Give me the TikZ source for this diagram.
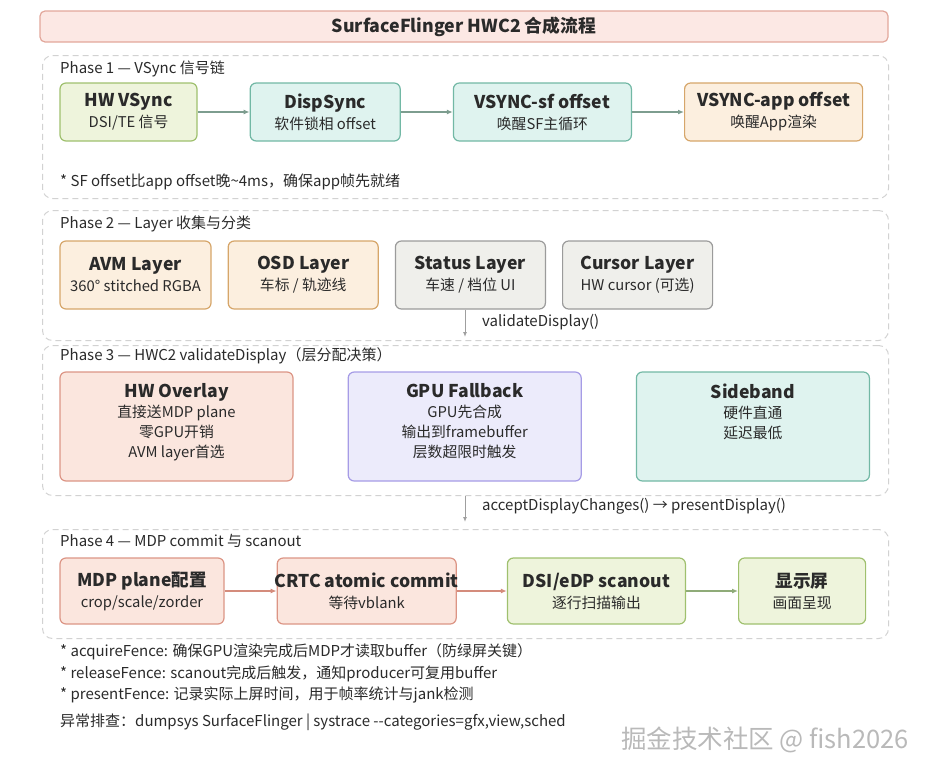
\documentclass[tikz,border=0pt]{standalone}
\usepackage{fontspec}
\setmainfont{Noto Sans CJK SC}
\usetikzlibrary{arrows.meta,positioning}

\definecolor{txt}{HTML}{2A2A2A}
\definecolor{ttlfill}{HTML}{FCE8E4}
\definecolor{ttlline}{HTML}{E2A79B}
\definecolor{grnfill}{HTML}{EEF4DC}
\definecolor{grnline}{HTML}{9FC06E}
\definecolor{tealfill}{HTML}{DFF3EF}
\definecolor{tealline}{HTML}{72B8A5}
\definecolor{orgfill}{HTML}{FCEFDF}
\definecolor{orgline}{HTML}{D6A66A}
\definecolor{gryfill}{HTML}{EFEFEB}
\definecolor{gryline}{HTML}{9B9B9B}
\definecolor{salfill}{HTML}{FBE6DE}
\definecolor{salline}{HTML}{DC9585}
\definecolor{purfill}{HTML}{ECEBFB}
\definecolor{purline}{HTML}{A69CE6}
\definecolor{arrteal}{HTML}{7D9D8F}
\definecolor{arrsal}{HTML}{D48C7C}
\definecolor{arrgrn}{HTML}{8FAB78}

\newcommand{\boxtxt}[2]{{\fontsize{17.6}{21}\selectfont\bfseries #1}\\#2}

\begin{document}
\begin{tikzpicture}[
  x=1pt, y=-1pt,
  >=Latex,
  node distance=52pt,
  panel/.style={draw=gray!35,dash pattern=on 6pt off 4pt,line width=1pt,
    rounded corners=10pt,anchor=north west,inner sep=0pt},
  box/.style={draw,line width=1.2pt,rounded corners=6pt,align=center,
    inner sep=0pt,text=txt,font=\fontsize{14.8}{21}\selectfont},
  grnbox/.style={box,fill=grnfill,draw=grnline},
  tealbox/.style={box,fill=tealfill,draw=tealline},
  orgbox/.style={box,fill=orgfill,draw=orgline},
  grybox/.style={box,fill=gryfill,draw=gryline},
  salbox/.style={box,fill=salfill,draw=salline},
  purbox/.style={box,fill=purfill,draw=purline},
  inner3/.style={anchor=north,align=center,inner sep=0pt,text=txt,
    font=\fontsize{14.8}{20}\selectfont},
  plabel/.style={anchor=west,inner sep=0pt,text=txt,font=\fontsize{15}{17}\selectfont},
  note/.style={anchor=west,inner sep=0pt,text=txt,font=\fontsize{15}{17}\selectfont},
  flow/.style={-{Latex[length=6pt,width=5pt]},line width=1.4pt},
  vflow/.style={-{Latex[length=5pt,width=4pt]},line width=1pt,draw=gray!75}
]
  \useasboundingbox (0,0) rectangle (930,774);

  % title
  \node[draw=ttlline,fill=ttlfill,line width=1.2pt,rounded corners=5pt,
    minimum width=848pt,minimum height=31pt,text=txt,
    font=\fontsize{17.8}{20}\selectfont\bfseries] (ttl) at (464,26.5)
    {SurfaceFlinger HWC2 合成流程};

  % phase panels
  \node[panel,minimum width=846pt,minimum height=143pt] (p1) at (42,55) {};
  \node[panel,minimum width=846pt,minimum height=130pt] (p2) at (42,210) {};
  \node[panel,minimum width=846pt,minimum height=150pt] (p3) at (42,345) {};
  \node[panel,minimum width=846pt,minimum height=109pt] (p4) at (42,529) {};

  \node[plabel] (p1lbl) at (60,69) {Phase 1 — VSync 信号链};
  \node[plabel] (p2lbl) at (60,224) {Phase 2 — Layer 收集与分类};
  \node[plabel] (p3lbl) at (60,356) {Phase 3 — HWC2 validateDisplay（层分配决策）};
  \node[plabel] (p4lbl) at (60,541) {Phase 4 — MDP commit 与 scanout};

  % phase 1
  \begin{scope}[minimum height=58pt]
    \node[grnbox,minimum width=137pt] (hwvs) at (128.5,112) {\boxtxt{HW VSync}{DSI/TE 信号}};
    \node[tealbox,minimum width=150pt,right=of hwvs] (dsync) {\boxtxt{DispSync}{软件锁相 offset}};
    \node[tealbox,minimum width=178pt,right=of dsync] (sfoff) {\boxtxt{VSYNC-sf offset}{唤醒SF主循环}};
    \node[orgbox,minimum width=178pt,right=of sfoff] (appoff) {\boxtxt{VSYNC-app offset}{唤醒App渲染}};
  \end{scope}
  \draw[flow,draw=arrteal] (hwvs.east) -- (dsync.west);
  \draw[flow,draw=arrteal] (dsync.east) -- (sfoff.west);
  \draw[flow,draw=arrteal] (sfoff.east) -- (appoff.west);
  \node[note] (n1) at (60,182) {* SF offset比app offset晚\textasciitilde4ms，确保app帧先就绪};

  % phase 2
  \begin{scope}[minimum height=68pt,node distance=16pt]
    \node[orgbox,minimum width=151pt] (avm) at (135.5,275) {\boxtxt{AVM Layer}{360° stitched RGBA}};
    \node[orgbox,minimum width=150pt,right=of avm] (osd) {\boxtxt{OSD Layer}{车标 / 轨迹线}};
    \node[grybox,minimum width=150pt,right=of osd] (stat) {\boxtxt{Status Layer}{车速 / 档位 UI}};
    \node[grybox,minimum width=150pt,right=of stat] (curs) {\boxtxt{Cursor Layer}{HW cursor (可选)}};
  \end{scope}
  \coordinate (v1) at (465,337);
  \draw[vflow] (stat.south -| v1) -- (v1);
  \node[plabel] (v1lbl) at (482,322) {validateDisplay()};

  % phase 3
  \begin{scope}[minimum height=109pt,minimum width=233pt,node distance=54pt]
    \node[salbox] (hwo) at (176.5,426.5) {};
    \node[purbox,right=of hwo] (gpu) {};
    \node[tealbox,right=of gpu] (side) {};
  \end{scope}
  \node[inner3] (hwot) at ([yshift=-12pt]hwo.north)
    {{\fontsize{17.6}{22}\selectfont\bfseries HW Overlay}\\直接送MDP plane\\零GPU开销\\AVM layer首选};
  \node[inner3] (gput) at ([yshift=-12pt]gpu.north)
    {{\fontsize{17.6}{22}\selectfont\bfseries GPU Fallback}\\GPU先合成\\输出到framebuffer\\层数超限时触发};
  \node[inner3] (sidet) at ([yshift=-12pt]side.north)
    {{\fontsize{17.6}{22}\selectfont\bfseries Sideband}\\硬件直通\\延迟最低};
  \coordinate (v2) at (465,522);
  \draw[vflow] (p3.south -| v2) -- (v2);
  \node[plabel] (v2lbl) at (482,506) {acceptDisplayChanges() → presentDisplay()};

  % phase 4
  \begin{scope}[minimum height=66pt]
    \node[salbox,minimum width=164pt] (mdp) at (142,591) {\boxtxt{MDP plane配置}{crop/scale/zorder}};
    \node[salbox,minimum width=179pt,right=of mdp] (crtc) {\boxtxt{\makebox[170pt]{CRTC atomic commit}}{等待vblank}};
    \node[grnbox,minimum width=178pt,right=50pt of crtc] (dsi) {\boxtxt{DSI/eDP scanout}{逐行扫描输出}};
    \node[grnbox,minimum width=127pt,right=of dsi] (disp) {\boxtxt{显示屏}{画面呈现}};
  \end{scope}
  \draw[flow,draw=arrsal] (mdp.east) -- (crtc.west);
  \draw[flow,draw=arrsal] (crtc.east) -- (dsi.west);
  \draw[flow,draw=arrgrn] (dsi.east) -- (disp.west);

  % notes
  \node[note] (n2) at (60,652) {* acquireFence: 确保GPU渲染完成后MDP才读取buffer（防绿屏关键）};
  \node[note] (n3) at (60,674) {* releaseFence: scanout完成后触发，通知producer可复用buffer};
  \node[note] (n4) at (60,695) {* presentFence: 记录实际上屏时间，用于帧率统计与jank检测};
  \node[note] (n5) at (60,722) {异常排查：dumpsys SurfaceFlinger | systrace -{}-categories=gfx,view,sched};

  \node[text=gray!55,font=\fontsize{25.5}{28}\selectfont] (wm) at (765,740) {掘金技术社区 @ fish2026};
\end{tikzpicture}
\end{document}
